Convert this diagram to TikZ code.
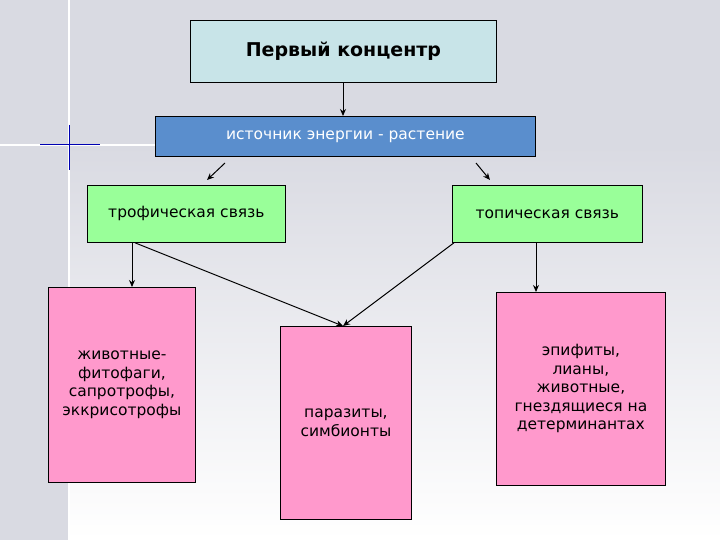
\documentclass[tikz,border=0pt]{standalone}
\usepackage{fontspec}
\setmainfont{DejaVu Sans}
\usetikzlibrary{arrows.meta}
\begin{document}
\begin{tikzpicture}[x=1pt,y=-1pt,
  box/.style={draw=black,line width=0.8pt,anchor=north west,inner sep=0pt,align=center,font=\fontsize{15.5}{18.5}\selectfont},
  arr/.style={-{Stealth[length=7pt,width=6pt]},line width=1pt}]
\definecolor{bg}{HTML}{D9DAE2}
\fill[bg] (0,0) rectangle (720,540);
\useasboundingbox (0,0) rectangle (720,540);
\shade[top color=bg,bottom color=white] (69,145) rectangle (720,540);
\draw[white,line width=2pt] (69,0) -- (69,540);
\draw[white,line width=2pt] (0,145) -- (155,145);
\draw[blue!70!black,line width=1pt] (40,145) -- (100,145);
\draw[blue!70!black,line width=1pt] (69,125) -- (69,170);
\node[box,fill={rgb,255:red,200;green,228;blue,232},minimum width=306pt,minimum height=62pt,font=\bfseries\fontsize{19}{22}\selectfont] (a) at (190,20) {Первый концентр};
\node[box,fill={rgb,255:red,90;green,142;blue,205},text=white,minimum width=380pt,minimum height=40pt] (b) at (155,116) {источник энергии - растение};
\node[box,fill={rgb,255:red,153;green,255;blue,153},minimum width=198pt,minimum height=57pt] (c) at (87,185) {трофическая связь};
\node[box,fill={rgb,255:red,153;green,255;blue,153},minimum width=190pt,minimum height=57pt] (d) at (452,185) {топическая связь};
\node[box,fill={rgb,255:red,255;green,153;blue,204},minimum width=147pt,minimum height=195pt] (e) at (48,287) {животные-\\фитофаги,\\сапротрофы,\\эккрисотрофы};
\node[box,fill={rgb,255:red,255;green,153;blue,204},minimum width=131pt,minimum height=193pt] (f) at (280,326) {паразиты,\\симбионты};
\node[box,fill={rgb,255:red,255;green,153;blue,204},minimum width=169pt,minimum height=193pt] (g) at (496,292) {эпифиты,\\лианы,\\животные,\\гнездящиеся на\\детерминантах};
\draw[arr] ([xshift=153pt]a.south west) -- ([xshift=188pt]b.north west);
\coordinate (b1) at (225,163); \coordinate (b2) at (476,163);
\coordinate (c1) at (207,180); \coordinate (d1) at (490,180);
\draw[arr] (b1) -- (c1);
\draw[arr] (b2) -- (d1);
\draw[arr] ([xshift=45pt]c.south west) -- ([xshift=84pt]e.north west);
\draw[arr] ([xshift=84pt]d.south west) -- ([xshift=40pt]g.north west);
\draw[arr] ([xshift=48pt]c.south west) -- ([xshift=63pt]f.north west);
\draw[arr] ([xshift=2pt]d.south west) -- ([xshift=63pt]f.north west);
\end{tikzpicture}
\end{document}
